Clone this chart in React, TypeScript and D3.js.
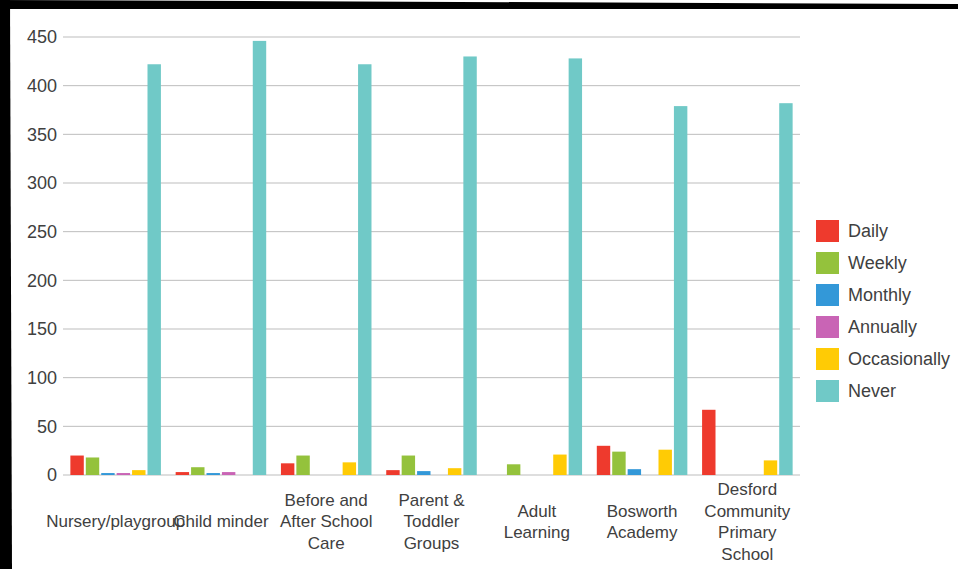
import React from "react";
import * as d3 from "d3";

const categories = [
  "Nursery/playgroup",
  "Child minder",
  "Before and After School Care",
  "Parent & Toddler Groups",
  "Adult Learning",
  "Bosworth Academy",
  "Desford Community Primary School",
];
const seriesNames = ["Daily", "Weekly", "Monthly", "Annually", "Occasionally", "Never"];
const seriesColors = ["#ee3a2d", "#94c23c", "#3398d8", "#c964b5", "#ffcb05", "#70c9c7"];
const daily = [20, 3, 12, 5, 0, 30, 67];
const weekly = [18, 8, 20, 20, 11, 24, 0];
const monthly = [2, 2, 0, 4, 0, 6, 0];
const annually = [2, 3, 0, 0, 0, 0, 0];
const occasionally = [5, 0, 13, 7, 21, 26, 15];
const never = [422, 446, 422, 430, 428, 379, 382];
const yTicks = [0, 50, 100, 150, 200, 250, 300, 350, 400, 450];

const seriesValues = [daily, weekly, monthly, annually, occasionally, never];

const W = 958;
const H = 569;
const FONT = "'Liberation Sans', Arial, sans-serif";

function wrap(text: string, maxW: number, font: string): string[] {
  const canvas = document.createElement("canvas");
  const ctx = canvas.getContext("2d")!;
  ctx.font = font;
  const words = text.split(" ");
  const lines: string[] = [];
  let cur = "";
  for (const w of words) {
    const t = cur ? cur + " " + w : w;
    if (cur && ctx.measureText(t).width > maxW) {
      lines.push(cur);
      cur = w;
    } else cur = t;
  }
  if (cur) lines.push(cur);
  return lines;
}

export default function App() {
  const left = 63, right = 800, top = 37, bottom = 475;
  const x0 = d3.scaleBand<string>().domain(categories).range([left, right]).paddingInner(0.14).paddingOuter(0.07);
  const x1 = d3.scaleBand<string>().domain(seriesNames).range([0, x0.bandwidth()]).paddingInner(0.13);
  const y = d3.scaleLinear().domain([0, 450]).range([bottom, top]);
  const band = (right - left) / categories.length;
  const labelFont = `17px ${FONT}`;

  return (
    <svg width={W} height={H} style={{ position: "absolute", left: 0, top: 0, background: "#fff" }}>
      <rect x={0} y={0} width={W} height={H} fill="#fff" />
      {/* frame */}
      <polygon points="0,0 958,4 958,9 0,9" fill="#000" />
      <polygon points="0,0 10,0 12,569 7,569 0,569" fill="#000" />
      {/* grid */}
      {yTicks.map((t) => (
        <g key={t}>
          <line x1={left} x2={right} y1={y(t)} y2={y(t)} stroke="#bdbdbd" strokeWidth={1} />
          <text x={57} y={y(t)} dy="0.35em" textAnchor="end" fontFamily={FONT} fontSize={18} fill="#404040">
            {t}
          </text>
        </g>
      ))}
      {/* bars */}
      {categories.map((c, ci) => (
        <g key={c} transform={`translate(${x0(c)},0)`}>
          {seriesNames.map((s, si) => {
            const v = seriesValues[si][ci];
            if (!v) return null;
            return (
              <rect
                key={s}
                x={x1(s)}
                y={y(v)}
                width={x1.bandwidth()}
                height={y(0) - y(v)}
                fill={seriesColors[si]}
              />
            );
          })}
        </g>
      ))}
      {/* category labels */}
      {categories.map((c) => {
        const lines = wrap(c, band, labelFont);
        const cx = (x0(c) as number) + x0.bandwidth() / 2;
        const lh = 21.5;
        const startY = 521.5 - ((lines.length - 1) * lh) / 2;
        return (
          <text key={c} x={cx} textAnchor="middle" fontFamily={FONT} fontSize={17} fill="#404040">
            {lines.map((l, i) => (
              <tspan key={i} x={cx} y={startY + i * lh} dy="0.35em">
                {l}
              </tspan>
            ))}
          </text>
        );
      })}
      {/* legend */}
      {seriesNames.map((s, i) => (
        <g key={s} transform={`translate(816,${220 + i * 32})`}>
          <rect x={0} y={0} width={23} height={22} fill={seriesColors[i]} />
          <text x={32} y={11} dy="0.35em" fontFamily={FONT} fontSize={18} fill="#404040">
            {s}
          </text>
        </g>
      ))}
    </svg>
  );
}
